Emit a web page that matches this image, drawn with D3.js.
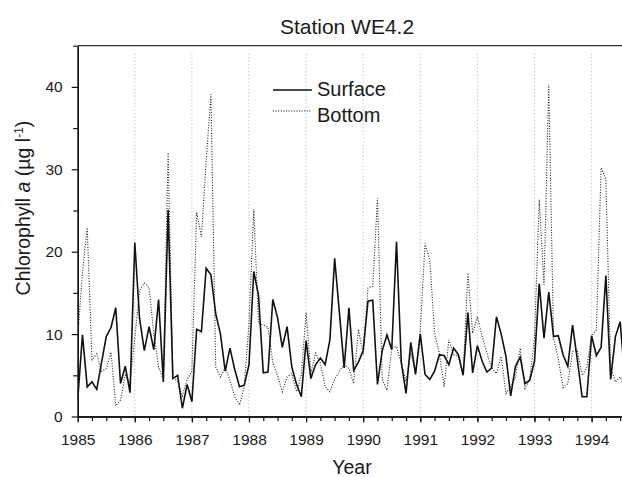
<!DOCTYPE html>
<html>
<head>
<meta charset="utf-8">
<script src="https://cdn.jsdelivr.net/npm/d3@7"></script>
<style>
  body { margin: 0; background: #fff; }
  text { font-family: "Liberation Sans", Arial, Helvetica, sans-serif; fill: #1a1a1a; }
</style>
</head>
<body>
<svg id="chart" width="622" height="477"></svg>
<script>
// monthly samples, Jan 1985 onwards
const startYear = 1985;
const surface = [
  2.0, 9.9, 3.6, 4.2, 3.3, 6.5, 9.7, 10.8, 13.2, 4.0, 6.1, 2.9,
  21.1, 11.9, 8.0, 10.9, 8.1, 14.2, 4.2, 25.1, 4.6, 5.0, 1.0, 3.9,
  1.8, 10.6, 10.3, 18.0, 17.2, 12.5, 10.0, 5.5, 8.3, 5.7, 3.6, 3.8,
  6.3, 17.6, 14.7, 5.3, 5.4, 14.2, 12.0, 8.4, 10.9, 6.0, 3.9, 2.4,
  9.2, 4.6, 6.3, 7.1, 6.3, 9.3, 19.2, 12.6, 5.9, 13.2, 5.6, 6.6,
  8.0, 14.0, 14.1, 3.9, 8.0, 9.9, 8.1, 21.2, 6.6, 2.8, 9.0, 5.1,
  10.0, 5.1, 4.5, 5.5, 7.5, 7.4, 6.3, 8.3, 7.5, 5.0, 12.6, 5.3,
  8.6, 6.7, 5.4, 5.9, 12.1, 10.0, 7.3, 2.5, 6.1, 7.2, 4.0, 4.4,
  6.7, 16.1, 9.5, 15.1, 9.7, 9.8, 7.5, 6.1, 11.1, 6.9, 2.4, 2.4,
  9.8, 7.4, 8.4, 17.1, 4.5, 9.7, 11.5, 4.5
];
const bottom = [
  9.5, 17.5, 22.9, 6.9, 7.6, 5.5, 5.8, 7.8, 1.3, 2.0, 5.0, 4.0,
  9.5, 15.3, 16.2, 15.6, 10.0, 6.0, 4.5, 32.0, 5.0, 4.2, 2.5, 4.5,
  5.5, 24.8, 21.8, 31.0, 39.1, 6.0, 4.8, 5.9, 4.4, 2.4, 1.4, 3.6,
  11.3, 25.1, 11.3, 11.1, 10.8, 6.5, 5.0, 3.0, 4.8, 5.2, 3.0, 5.0,
  12.6, 5.2, 7.7, 6.5, 3.6, 3.0, 4.5, 5.5, 6.3, 5.8, 4.0, 10.6,
  7.5, 15.6, 15.8, 26.5, 4.5, 3.2, 8.3, 8.5, 6.5, 4.3, 7.7, 5.3,
  10.5, 21.0, 19.0, 10.1, 7.7, 3.6, 9.3, 7.5, 7.3, 5.2, 17.4, 10.1,
  12.1, 9.7, 7.7, 5.9, 5.2, 7.3, 2.8, 3.6, 4.8, 8.3, 3.4, 4.5,
  9.5, 26.3, 16.0, 40.3, 9.5, 7.0, 3.5, 4.0, 7.9, 8.0, 5.0, 6.0,
  9.8, 10.5, 30.2, 28.8, 6.0, 4.2, 4.8, 3.5
];
const yearTicks = d3.range(1985, 1995);
const quarterTicks = d3.range(1985, 1994.6, 0.25);
const yTicks = [0, 10, 20, 30, 40];
const yMinorTicks = [5, 15, 25, 35, 45];

const svg = d3.select("#chart");
const plotLeft = 77.7, plotRight = 622, plotTop = 45.7, plotBase = 416.5;

const x = d3.scaleLinear()
  .domain([1985, 1985 + (plotRight - plotLeft) / 57.1])
  .range([plotLeft, plotRight]);
const y = d3.scaleLinear().domain([0, 45]).range([plotBase, plotTop]);

svg.append("defs").append("clipPath").attr("id", "plot")
  .append("rect")
  .attr("x", plotLeft).attr("y", plotTop)
  .attr("width", plotRight - plotLeft).attr("height", plotBase - plotTop);

// dotted year gridlines
svg.append("g")
  .selectAll("line")
  .data(yearTicks.slice(1))
  .join("line")
  .attr("x1", (d) => x(d)).attr("x2", (d) => x(d))
  .attr("y1", plotTop + 8).attr("y2", plotBase)
  .attr("stroke", "#999")
  .attr("stroke-width", 0.8)
  .attr("stroke-dasharray", "1,2.5");

// series
const line = d3.line()
  .x((d, i) => x(startYear + i / 12))
  .y((d) => y(d));

const plot = svg.append("g").attr("clip-path", "url(#plot)");

plot.append("path")
  .datum(bottom)
  .attr("fill", "none")
  .attr("stroke", "#222")
  .attr("stroke-width", 1.1)
  .attr("stroke-dasharray", "1,1.6")
  .attr("d", line);

plot.append("path")
  .datum(surface)
  .attr("fill", "none")
  .attr("stroke", "#111")
  .attr("stroke-width", 1.6)
  .attr("d", line);

// axes
const xAxis = svg.append("g")
  .attr("transform", `translate(0,${plotBase})`)
  .call(d3.axisBottom(x).tickValues(yearTicks).tickSize(6).tickSizeOuter(0).tickFormat(d3.format("d")));
svg.append("g")
  .attr("transform", `translate(0,${plotBase})`)
  .call(d3.axisBottom(x).tickValues(quarterTicks).tickSize(4.5).tickSizeOuter(0).tickFormat(""));

const yAxis = svg.append("g")
  .attr("transform", `translate(${plotLeft},0)`)
  .call(d3.axisLeft(y).tickValues(yTicks).tickSize(6).tickSizeOuter(0));
svg.append("g")
  .attr("transform", `translate(${plotLeft},0)`)
  .call(d3.axisLeft(y).tickValues(yMinorTicks).tickSize(4.5).tickSizeOuter(0).tickFormat(""));

svg.selectAll(".domain").attr("stroke", "#111").attr("stroke-width", 1.3);
svg.selectAll(".tick line").attr("stroke", "#111").attr("stroke-width", 1.2);

xAxis.selectAll(".tick text")
  .attr("y", 17)
  .style("font-size", "15.5px")
  .style("font-family", "'Liberation Sans', Arial, sans-serif")
  .attr("fill", "#1a1a1a");
yAxis.selectAll(".tick text")
  .attr("x", -15)
  .style("font-size", "15.5px")
  .style("font-family", "'Liberation Sans', Arial, sans-serif")
  .attr("fill", "#1a1a1a");

// top frame line
svg.append("line")
  .attr("x1", plotLeft).attr("x2", plotRight)
  .attr("y1", plotTop).attr("y2", plotTop)
  .attr("stroke", "#333").attr("stroke-width", 1.3);

// title & labels
svg.append("text")
  .attr("x", 347).attr("y", 34)
  .attr("text-anchor", "middle")
  .style("font-size", "21px")
  .text("Station WE4.2");

svg.append("text")
  .attr("x", 352).attr("y", 474)
  .attr("text-anchor", "middle")
  .style("font-size", "19.5px")
  .text("Year");

const yTitle = svg.append("text")
  .attr("transform", "translate(30,208) rotate(-90)")
  .attr("text-anchor", "middle")
  .style("font-size", "19.5px");
yTitle.append("tspan").text("Chlorophyll ");
yTitle.append("tspan").style("font-style", "italic").text("a");
yTitle.append("tspan").text(" (µg l");
yTitle.append("tspan").attr("dy", -7).style("font-size", "12px").text("-1");
yTitle.append("tspan").attr("dy", 7).text(")");

// legend
const legend = [
  { label: "Surface", dash: null, width: 1.6, ly: 90, ty: 96 },
  { label: "Bottom", dash: "1,1.6", width: 1.1, ly: 111, ty: 122 }
];
legend.forEach((d) => {
  svg.append("line")
    .attr("x1", 273).attr("x2", 312)
    .attr("y1", d.ly).attr("y2", d.ly)
    .attr("stroke", "#111")
    .attr("stroke-width", d.width)
    .attr("stroke-dasharray", d.dash);
  svg.append("text")
    .attr("x", 317).attr("y", d.ty)
    .style("font-size", "20px")
    .text(d.label);
});
</script>
</body>
</html>
